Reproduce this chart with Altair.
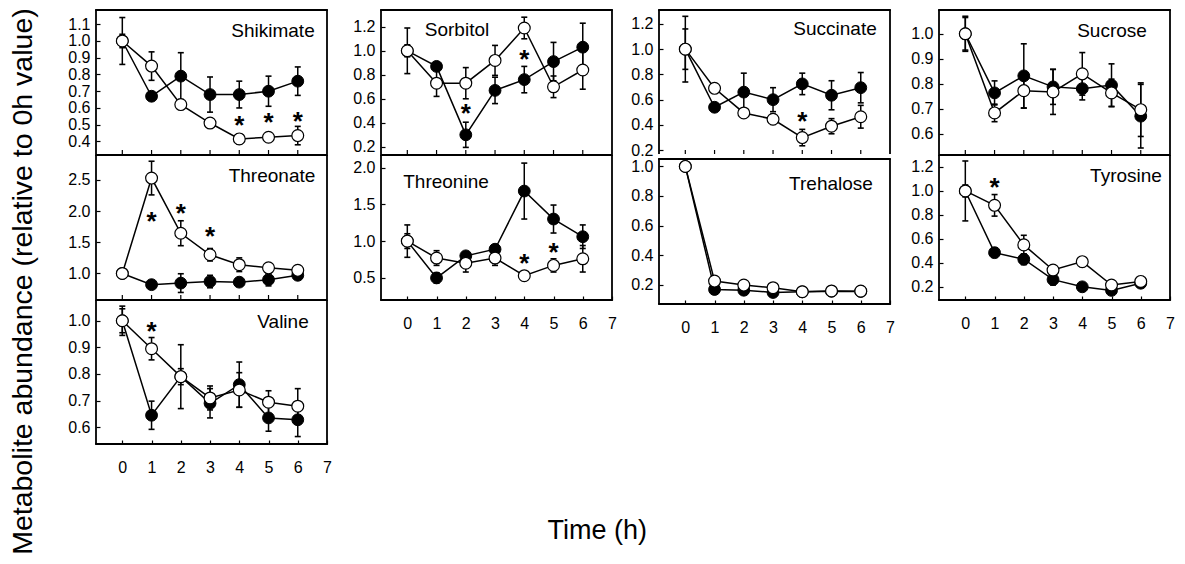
import altair as alt
import pandas as pd

FONT = "Liberation Sans"
times = [0, 1, 2, 3, 4, 5, 6]
x_labels = [0, 1, 2, 3, 4, 5, 6, 7]

# ---- data (closed = filled circles, open = white circles) ----
shik_closed = [1.00, 0.67, 0.79, 0.68, 0.68, 0.70, 0.76]
shik_closed_err = [0.14, 0.02, 0.14, 0.105, 0.08, 0.09, 0.085]
shik_open = [1.00, 0.85, 0.62, 0.51, 0.415, 0.425, 0.435]
shik_open_err = [0.04, 0.085, 0.02, 0.02, 0.03, 0.02, 0.055]
shik_star_t = [4, 5, 6]
shik_star_y = [0.535, 0.553, 0.56]

sorb_closed = [1.00, 0.87, 0.30, 0.67, 0.76, 0.91, 1.03]
sorb_closed_err = [0.19, 0.02, 0.105, 0.11, 0.11, 0.16, 0.2]
sorb_open = [1.00, 0.73, 0.73, 0.92, 1.19, 0.70, 0.84]
sorb_open_err = [0.05, 0.11, 0.13, 0.125, 0.09, 0.09, 0.16]
sorb_star_t = [2, 4]
sorb_star_y = [0.53, 0.98]

succ_closed = [1.00, 0.54, 0.66, 0.60, 0.725, 0.635, 0.695]
succ_closed_err = [0.16, 0.02, 0.15, 0.095, 0.085, 0.115, 0.12]
succ_open = [1.00, 0.69, 0.495, 0.445, 0.30, 0.39, 0.465]
succ_open_err = [0.26, 0.03, 0.03, 0.04, 0.065, 0.06, 0.09]
succ_star_t = [4]
succ_star_y = [0.477]

sucr_closed = [1.00, 0.764, 0.832, 0.788, 0.781, 0.795, 0.671]
sucr_closed_err = [0.07, 0.048, 0.128, 0.07, 0.045, 0.085, 0.127]
sucr_open = [1.00, 0.684, 0.773, 0.768, 0.840, 0.764, 0.697]
sucr_open_err = [0.065, 0.035, 0.07, 0.09, 0.085, 0.055, 0.107]
sucr_star_t = []
sucr_star_y = []

thra_closed = [1.00, 0.82, 0.845, 0.87, 0.86, 0.90, 0.97]
thra_closed_err = [0.02, 0.03, 0.15, 0.1, 0.05, 0.1, 0.06]
thra_open = [1.00, 2.53, 1.645, 1.30, 1.14, 1.09, 1.05]
thra_open_err = [0.02, 0.27, 0.2, 0.1, 0.11, 0.05, 0.04]
thra_star_t = [1, 2, 3]
thra_star_y = [1.93, 2.06, 1.69]

thre_closed = [1.00, 0.50, 0.80, 0.89, 1.68, 1.30, 1.06]
thre_closed_err = [0.22, 0.07, 0.05, 0.05, 0.38, 0.19, 0.16]
thre_open = [1.00, 0.77, 0.70, 0.77, 0.53, 0.67, 0.76]
thre_open_err = [0.1, 0.1, 0.12, 0.1, 0.03, 0.09, 0.18]
thre_star_t = [4, 5]
thre_star_y = [0.79, 0.93]

treh_closed = [1.00, 0.168, 0.163, 0.148, 0.152, 0.156, 0.155]
treh_closed_err = [0.01, 0.015, 0.015, 0.015, 0.01, 0.01, 0.01]
treh_open = [1.00, 0.225, 0.198, 0.18, 0.153, 0.158, 0.157]
treh_open_err = [0.01, 0.02, 0.01, 0.01, 0.01, 0.01, 0.01]
treh_star_t = []
treh_star_y = []

tyro_closed = [1.00, 0.485, 0.43, 0.26, 0.20, 0.17, 0.23]
tyro_closed_err = [0.25, 0.04, 0.045, 0.045, 0.02, 0.02, 0.03]
tyro_open = [1.00, 0.88, 0.55, 0.34, 0.41, 0.215, 0.245]
tyro_open_err = [0.05, 0.09, 0.08, 0.03, 0.04, 0.03, 0.04]
tyro_star_t = [1]
tyro_star_y = [1.08]

vali_closed = [1.00, 0.645, 0.79, 0.69, 0.76, 0.635, 0.628]
vali_closed_err = [0.045, 0.053, 0.12, 0.055, 0.085, 0.05, 0.063]
vali_open = [1.00, 0.895, 0.79, 0.71, 0.74, 0.694, 0.679]
vali_open_err = [0.055, 0.042, 0.03, 0.045, 0.065, 0.043, 0.066]
vali_star_t = [1]
vali_star_y = [0.985]

XDOM = [-0.9, 7.0]
W = 231
TICK = 4
FRAME = 1.8


def panel(name, closed, closed_err, opn, open_err, star_t, star_y, ydom, yticks,
          height, ext, is_bottom, title_cx, title_by):
    rows = []
    for s, vals, errs in (("closed", closed, closed_err), ("open", opn, open_err)):
        for t, v, e in zip(times, vals, errs):
            rows.append({"t": t, "v": v, "lo": v - e, "hi": v + e, "s": s})
    df = pd.DataFrame(rows)
    sdf = pd.DataFrame({"t": star_t, "v": star_y})

    if is_bottom:
        xaxis = alt.Axis(values=x_labels, labels=True, domain=False, ticks=True,
                         tickSize=TICK, offset=-TICK, tickColor="black", tickWidth=1.2,
                         labelFont=FONT, labelFontSize=16, labelColor="black",
                         labelPadding=15, labelFlush=False, labelOverlap=False,
                         grid=False, title=None)
    else:
        xaxis = None
    yaxis = alt.Axis(values=yticks, format=".1f", domain=False, ticks=True,
                     tickSize=TICK, offset=-TICK, tickColor="black", tickWidth=1.2,
                     labelFont=FONT, labelFontSize=16, labelColor="black",
                     labelPadding=6, labelOverlap=False, grid=False, title=None,
                     minExtent=ext, maxExtent=ext)
    xs = alt.Scale(domain=XDOM, nice=False, zero=False)
    ys = alt.Scale(domain=ydom, nice=False, zero=False)
    X = alt.X("t:Q", scale=xs, axis=xaxis, title=None)

    def Y(f):
        return alt.Y(f + ":Q", scale=ys, axis=yaxis, title=None)

    # panel frame: top / left / right always, bottom only on the last panel of a column
    fr = alt.Chart(pd.DataFrame({"k": [0]}))
    frame = [
        fr.mark_rule(color="black", strokeWidth=FRAME).encode(
            x=alt.value(-FRAME / 2), x2=alt.value(W + FRAME / 2), y=alt.value(0)),
        fr.mark_rule(color="black", strokeWidth=FRAME).encode(
            x=alt.value(0), y=alt.value(0), y2=alt.value(height)),
        fr.mark_rule(color="black", strokeWidth=FRAME).encode(
            x=alt.value(W), y=alt.value(0), y2=alt.value(height)),
    ]
    if is_bottom:
        frame.append(fr.mark_rule(color="black", strokeWidth=FRAME).encode(
            x=alt.value(-FRAME / 2), x2=alt.value(W + FRAME / 2), y=alt.value(height)))

    base = alt.Chart(df)
    lines = base.mark_line(color="black", strokeWidth=1.5).encode(x=X, y=Y("v"), detail="s:N")
    stems = base.mark_rule(color="black", strokeWidth=1.5).encode(x=X, y=Y("lo"), y2="hi:Q")
    cap_lo = base.mark_tick(orient="horizontal", color="black", size=6, thickness=1.6,
                            opacity=1).encode(x=X, y=Y("lo"))
    cap_hi = base.mark_tick(orient="horizontal", color="black", size=6, thickness=1.6,
                            opacity=1).encode(x=X, y=Y("hi"))
    pts_c = base.transform_filter(alt.datum.s == "closed").mark_point(
        shape="circle", filled=True, fill="black", stroke="black", strokeWidth=1,
        size=140, opacity=1).encode(x=X, y=Y("v"))
    pts_o = base.transform_filter(alt.datum.s == "open").mark_point(
        shape="circle", filled=True, fill="white", stroke="black", strokeWidth=1.2,
        size=140, opacity=1).encode(x=X, y=Y("v"))
    layers = [lines] + frame + [stems, cap_lo, cap_hi, pts_c, pts_o]
    if not is_bottom:
        # inward x ticks along the shared bottom border (axis labels hidden here)
        xticks = alt.Chart(pd.DataFrame({"t": times})).mark_rule(
            color="black", strokeWidth=1.2).encode(
            x=X, y=alt.value(height - TICK), y2=alt.value(height))
        layers.append(xticks)
    if len(star_t):
        stars = alt.Chart(sdf).mark_text(text="*", font=FONT, fontSize=26, fontWeight="bold",
                                         baseline="alphabetic", dy=15, color="black").encode(
            x=X, y=Y("v"))
        layers.append(stars)
    ttl = alt.Chart(pd.DataFrame({"label": [name]})).mark_text(
        font=FONT, fontSize=19, align="center", baseline="alphabetic", color="black").encode(
        x=alt.value(title_cx), y=alt.value(title_by), text="label:N")
    layers.append(ttl)
    return alt.layer(*layers).properties(width=W, height=height)


p_shik = panel("Shikimate", shik_closed, shik_closed_err, shik_open, shik_open_err,
               shik_star_t, shik_star_y, [0.325, 1.185],
               [0.4, 0.5, 0.6, 0.7, 0.8, 0.9, 1.0, 1.1], 144, 40, False, 177, 27)
p_thra = panel("Threonate", thra_closed, thra_closed_err, thra_open, thra_open_err,
               thra_star_t, thra_star_y, [0.59, 2.9], [1.0, 1.5, 2.0, 2.5], 144, 40, False, 176, 27)
p_vali = panel("Valine", vali_closed, vali_closed_err, vali_open, vali_open_err,
               vali_star_t, vali_star_y, [0.537, 1.078], [0.6, 0.7, 0.8, 0.9, 1.0], 144, 40, True, 187, 28)

p_sorb = panel("Sorbitol", sorb_closed, sorb_closed_err, sorb_open, sorb_open_err,
               sorb_star_t, sorb_star_y, [0.14, 1.34], [0.2, 0.4, 0.6, 0.8, 1.0, 1.2], 144, 43, False, 76, 26)
p_thre = panel("Threonine", thre_closed, thre_closed_err, thre_open, thre_open_err,
               thre_star_t, thre_star_y, [0.2, 2.17], [0.5, 1.0, 1.5, 2.0], 145, 43, True, 65, 33)

p_succ = panel("Succinate", succ_closed, succ_closed_err, succ_open, succ_open_err,
               succ_star_t, succ_star_y, [0.17, 1.31], [0.2, 0.4, 0.6, 0.8, 1.0, 1.2], 144, 36, False, 176, 25)
p_treh = panel("Trehalose", treh_closed, treh_closed_err, treh_open, treh_open_err,
               treh_star_t, treh_star_y, [0.07, 1.05], [0.2, 0.4, 0.6, 0.8, 1.0], 145, 36, True, 172, 31)

p_sucr = panel("Sucrose", sucr_closed, sucr_closed_err, sucr_open, sucr_open_err,
               sucr_star_t, sucr_star_y, [0.52, 1.095], [0.6, 0.7, 0.8, 0.9, 1.0], 144, 38, False, 173, 27)
p_tyro = panel("Tyrosine", tyro_closed, tyro_closed_err, tyro_open, tyro_open_err,
               tyro_star_t, tyro_star_y, [0.09, 1.30], [0.2, 0.4, 0.6, 0.8, 1.0, 1.2], 145, 38, True, 187, 27)

VS = -3
col1 = alt.vconcat(p_shik, p_thra, p_vali, spacing=VS)
col2 = alt.vconcat(p_sorb, p_thre, spacing=VS)
col3 = alt.vconcat(p_succ, p_treh, spacing=VS)
col4 = alt.vconcat(p_sucr, p_tyro, spacing=VS)

grid = alt.hconcat(col1, col2, col3, col4, spacing=10).properties(
    title=alt.TitleParams(text="Time (h)", orient="bottom", anchor="middle", font=FONT,
                          fontSize=27, fontWeight="normal", color="black", offset=43, dx=-20))

chart = alt.vconcat(grid, spacing=0).properties(
    title=alt.TitleParams(text="Metabolite abundance (relative to 0h value)", orient="left",
                          anchor="middle", font=FONT, fontSize=28.5, fontWeight="normal",
                          color="black", offset=23, dx=-5)
).configure(padding=0, background="white").configure_view(stroke=None)

chart.save("out.html", embed_options={"renderer": "svg", "actions": False})
